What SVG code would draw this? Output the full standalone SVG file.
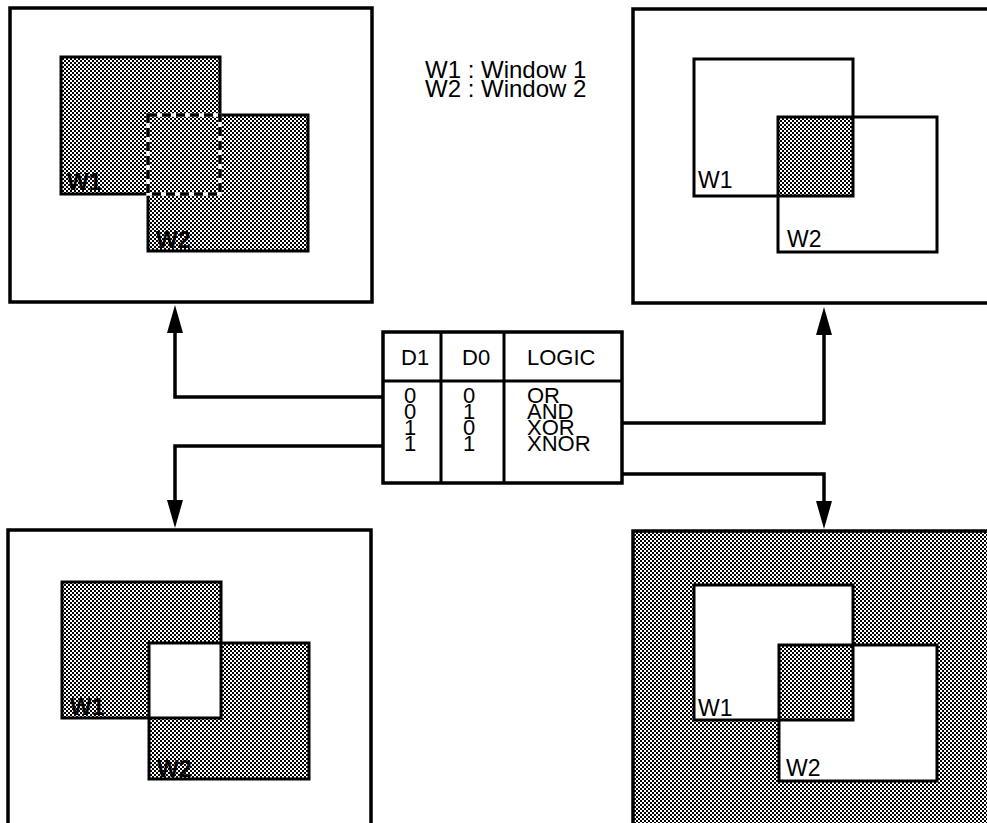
<svg xmlns="http://www.w3.org/2000/svg" width="987" height="823" viewBox="0 0 987 823">
<defs>
<pattern id="dots" x="0" y="0" width="4" height="4" patternUnits="userSpaceOnUse">
<rect width="4" height="4" fill="#fff"/>
<rect x="0" y="0" width="2" height="2" fill="#000"/>
<rect x="2" y="2" width="2" height="2" fill="#000"/>
</pattern>
<marker id="ah" viewBox="0 -8 28 16" refX="0" refY="0" markerWidth="28" markerHeight="16" markerUnits="userSpaceOnUse" orient="auto">
<path d="M0,-8 L28,0 L0,8 Z" fill="#000"/>
</marker>
</defs>
<style>
.panel{stroke:#000;stroke-width:3.5;}
.win{fill:none;stroke:#000;stroke-width:3;}
.lbl{font-family:"Liberation Sans",Arial,sans-serif;font-size:23px;fill:#000;}
.leg{font-family:"Liberation Sans",Arial,sans-serif;font-size:24px;fill:#000;}
.tt{font-family:"Liberation Sans",Arial,sans-serif;font-size:22px;fill:#000;}
.conn{fill:none;stroke:#000;stroke-width:3.5;}
</style>
<rect width="987" height="823" fill="#fff"/>

<g id="panel-or">
<rect class="panel" x="10" y="8" width="362" height="294" fill="#fff"/>
<rect x="61" y="57" width="159" height="137" fill="url(#dots)"/>
<rect x="148" y="115" width="160" height="136" fill="url(#dots)"/>
<path class="win" d="M148,194 H61 V57 H220 V115 H308 V251 H148 Z"/>
<rect x="148" y="115" width="72" height="79" fill="none" stroke="#fff" stroke-width="3.5"/>
<rect x="148" y="115" width="72" height="79" fill="none" stroke="#000" stroke-width="3.5" stroke-dasharray="9,5"/>
<text class="lbl" x="67" y="190" font-weight="bold">W1</text>
<text class="lbl" x="156" y="248" font-weight="bold">W2</text>
</g>

<g id="panel-and">
<rect class="panel" x="633" y="9" width="360" height="294" fill="#fff"/>
<rect x="778" y="117" width="75" height="79" fill="url(#dots)"/>
<rect class="win" x="694" y="59" width="159" height="137"/>
<rect class="win" x="778" y="117" width="159" height="135"/>
<text class="lbl" x="698" y="188">W1</text>
<text class="lbl" x="787" y="247">W2</text>
</g>

<g id="panel-xor">
<rect class="panel" x="8" y="530" width="363" height="300" fill="#fff"/>
<rect x="62" y="582" width="159" height="136" fill="url(#dots)"/>
<rect x="149" y="643" width="160" height="136" fill="url(#dots)"/>
<rect x="149" y="643" width="72" height="75" fill="#fff"/>
<rect class="win" x="62" y="582" width="159" height="136"/>
<rect class="win" x="149" y="643" width="160" height="136"/>
<text class="lbl" x="70" y="715" font-weight="bold">W1</text>
<text class="lbl" x="157" y="777" font-weight="bold">W2</text>
</g>

<g id="panel-xnor">
<rect class="panel" x="633" y="531" width="360" height="300" fill="url(#dots)"/>
<rect x="694" y="585" width="159" height="135" fill="#fff"/>
<rect x="779" y="645" width="158" height="136" fill="#fff"/>
<rect x="779" y="645" width="74" height="75" fill="url(#dots)"/>
<rect class="win" x="694" y="585" width="159" height="135"/>
<rect class="win" x="779" y="645" width="158" height="136"/>
<text class="lbl" x="698" y="716">W1</text>
<text class="lbl" x="786" y="776">W2</text>
</g>

<g id="legend">
<text class="leg" x="425"><tspan x="425" y="78">W1 : Window 1</tspan><tspan x="425" y="97">W2 : Window 2</tspan></text>
</g>

<g id="table">
<rect x="383" y="332" width="239" height="151" fill="#fff" stroke="#000" stroke-width="3.5"/>
<line x1="383" y1="381" x2="622" y2="381" stroke="#000" stroke-width="3"/>
<line x1="441" y1="332" x2="441" y2="483" stroke="#000" stroke-width="3"/>
<line x1="504" y1="332" x2="504" y2="483" stroke="#000" stroke-width="3"/>
<text class="tt" x="401" y="365">D1</text>
<text class="tt" x="462" y="365">D0</text>
<text class="tt" x="527" y="365">LOGIC</text>
<text class="tt"><tspan x="404" y="403">0</tspan><tspan x="404" y="419">0</tspan><tspan x="404" y="435">1</tspan><tspan x="404" y="451">1</tspan></text>
<text class="tt"><tspan x="463" y="403">0</tspan><tspan x="463" y="419">1</tspan><tspan x="463" y="435">0</tspan><tspan x="463" y="451">1</tspan></text>
<text class="tt"><tspan x="527" y="403">OR</tspan><tspan x="527" y="419">AND</tspan><tspan x="527" y="435">XOR</tspan><tspan x="527" y="451">XNOR</tspan></text>
</g>

<g id="connectors">
<path class="conn" d="M383,397 H175 V333" marker-end="url(#ah)"/>
<path class="conn" d="M383,446 H175 V500" marker-end="url(#ah)"/>
<path class="conn" d="M622,423 H824 V335" marker-end="url(#ah)"/>
<path class="conn" d="M622,474 H824 V501" marker-end="url(#ah)"/>
</g>
</svg>
